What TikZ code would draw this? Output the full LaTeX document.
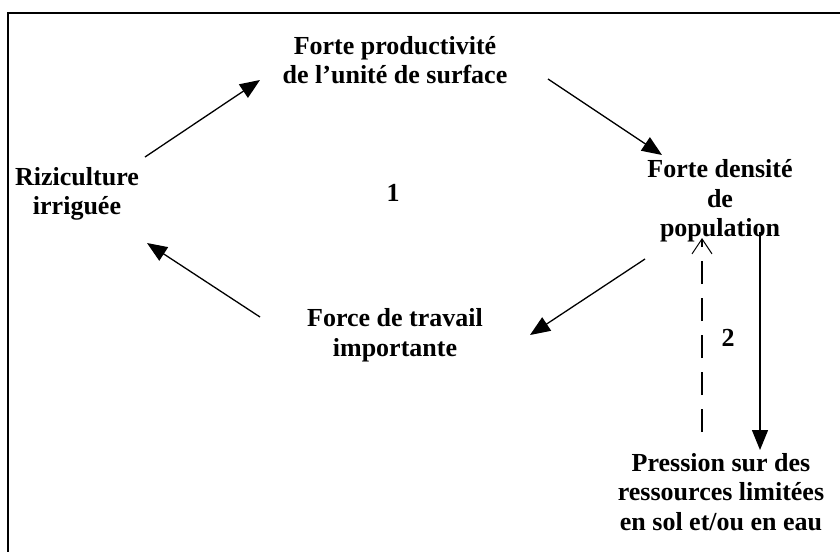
\documentclass[tikz,border=0pt]{standalone}
\usepackage{fontspec}
\setmainfont{Liberation Serif}
\usetikzlibrary{arrows.meta}
\tikzset{>={Triangle[length=20pt,width=16pt]}}
\colorlet{penColor}{black}

\begin{document}
\begin{tikzpicture}[x=1pt,y=-1pt,
    txt/.style={font=\bfseries\fontsize{26}{29.5}\selectfont,align=center,inner sep=0pt,text=penColor},
    arr/.style={->,line width=1.3pt,penColor},
    back/.style={line width=1.1pt,penColor,dash pattern=on 23pt off 14pt,
      -{Straight Barb[length=15pt,width=20pt,line width=1pt]}}]
  \useasboundingbox (0,0) rectangle (840,552);
  \draw[penColor,line width=2.4pt] (840,13) -- (8,13) -- (8,552);% frame, only top and left show

  \node[txt] (prod) at (395,60) {Forte productivité\\de l’unité de surface};
  \node[txt] (rizi) at (77,194) {Riziculture\\irriguée};
  \node[txt] (dens) at (720,201) {Forte densité\\de\\population};
  \node[txt] (trav) at (395,335) {Force de travail\\importante};
  \node[txt] (press) at (721,492) {Pression sur des\\ressources limitées\\en sol et/ou en eau};
  \node[txt] (one) at (393,193) {1};
  \node[txt] (two) at (728,338) {2};

  % loop 1
  \draw[arr] ([shift={(68,-37)}]rizi.center) -- ([shift={(-135,20)}]prod.center);
  \draw[arr] ([shift={(153,19)}]prod.center) -- ([shift={(-58,-46)}]dens.center);
  \draw[arr] ([shift={(-75,58)}]dens.center) -- ([shift={(135,0)}]trav.center);
  \draw[arr] ([shift={(-135,-18)}]trav.center) -- ([shift={(70,49)}]rizi.center);
  % loop 2
  \draw[arr] ([shift={(40,31)}]dens.center) -- ([shift={(39,-42)}]press.center);
  \draw[back] ([shift={(-19,-60)}]press.center) -- ([shift={(-18,37)}]dens.center);
\end{tikzpicture}
\end{document}
